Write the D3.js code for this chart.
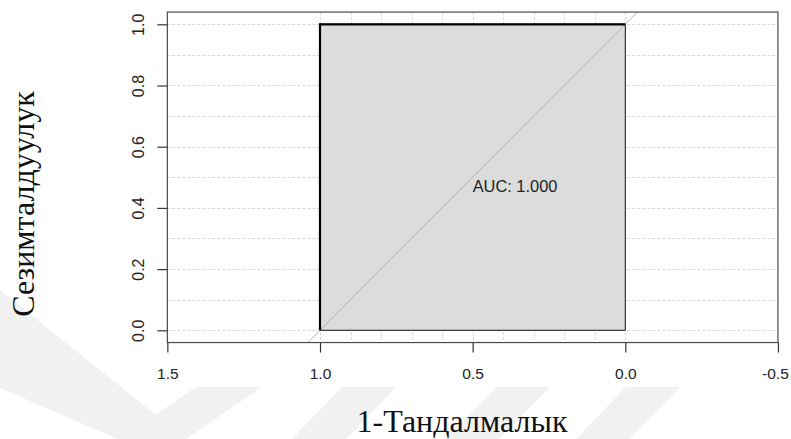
<!DOCTYPE html>
<html>
<head>
<meta charset="utf-8">
<script src="https://cdn.jsdelivr.net/npm/d3@7"></script>
<style>
  html, body { margin: 0; padding: 0; background: #fff; }
  svg { display: block; }
</style>
</head>
<body>
<svg id="chart" width="791" height="439"></svg>
<script>
// ---- data ----
const curveSpecificity = [1, 1, 0];      // x (reversed axis)
const curveSensitivity = [0, 1, 1];      // y
const xTickValues = [1.5, 1.0, 0.5, 0.0, -0.5];
const xTickLabels = ["1.5", "1.0", "0.5", "0.0", "-0.5"];
const yTickValues = [0.0, 0.2, 0.4, 0.6, 0.8, 1.0];
const yTickLabels = ["0.0", "0.2", "0.4", "0.6", "0.8", "1.0"];
const xGridValues = [1.0, 0.9, 0.8, 0.7, 0.6, 0.5, 0.4, 0.3, 0.2, 0.1, 0.0];
const yGridValues = [0.0, 0.1, 0.2, 0.3, 0.4, 0.5, 0.6, 0.7, 0.8, 0.9, 1.0];
const aucLabel = "AUC: 1.000";
const aucPos = [0.5, 0.5];
const xTitle = "1-Тандалмалык";
const yTitle = "Сезимталдуулук";

// ---- layout ----
const svg = d3.select("#chart");
const x = d3.scaleLinear().domain([1.0, 0.0]).range([320, 625.3]);
const y = d3.scaleLinear().domain([0.0, 1.0]).range([330.3, 24.3]);
const xMin = 1.5, xMax = -0.5, yMin = -0.04, yMax = 1.04;
const L = x(xMin), R = x(xMax), T = y(yMax), B = y(yMin);

// ---- watermark (faint background stripes) ----
const wm = svg.append("g").attr("fill", "#f1f1f1");
const stripes = [
  [[0, 290], [0, 388], [118, 439], [186, 439]],
  [[120, 439], [186, 439], [262, 387], [196, 387]],
  [[292, 439], [346, 439], [396, 387], [342, 387]],
  [[445, 439], [499, 439], [550, 387], [496, 387]],
  [[576, 439], [630, 439], [680, 387], [626, 387]]
];
stripes.forEach(p => wm.append("polygon").attr("points", p.map(d => d.join(",")).join(" ")));

// ---- grid ----
const clipId = "plotclip";
svg.append("clipPath").attr("id", clipId)
  .append("rect").attr("x", L).attr("y", T).attr("width", R - L).attr("height", B - T);

const grid = svg.append("g").attr("stroke", "#d9d9d9").attr("stroke-width", 1)
  .attr("stroke-dasharray", "3,2");
grid.selectAll("line.h").data(yGridValues).join("line").attr("class", "h")
  .attr("x1", L).attr("x2", R)
  .attr("y1", d => Math.round(y(d)) + 0.5).attr("y2", d => Math.round(y(d)) + 0.5);
grid.selectAll("line.v").data(xGridValues).join("line").attr("class", "v")
  .attr("y1", T).attr("y2", B)
  .attr("x1", d => Math.round(x(d)) + 0.5).attr("x2", d => Math.round(x(d)) + 0.5);

// ---- AUC polygon ----
const polyPts = curveSpecificity.map((s, i) => [x(s), y(curveSensitivity[i])]);
polyPts.push([x(0), y(0)]);
svg.append("polygon")
  .attr("points", polyPts.map(d => d.join(",")).join(" "))
  .attr("fill", "#dcdcdc").attr("stroke", "#111").attr("stroke-width", 1);

// ---- identity line ----
svg.append("line").attr("clip-path", `url(#${clipId})`)
  .attr("x1", x(1 - yMin)).attr("y1", y(yMin))
  .attr("x2", x(1 - yMax)).attr("y2", y(yMax))
  .attr("stroke", "#b4b4b4").attr("stroke-width", 1);

// ---- ROC curve ----
const line = d3.line().x(d => x(d[0])).y(d => y(d[1]));
svg.append("path")
  .datum(curveSpecificity.map((s, i) => [s, curveSensitivity[i]]))
  .attr("d", line).attr("fill", "none").attr("stroke", "#000").attr("stroke-width", 2.2);

// ---- AUC text ----
svg.append("text").attr("x", x(aucPos[0])).attr("y", y(aucPos[1]) + 15)
  .attr("font-family", "Liberation Sans, Arial, sans-serif").attr("font-size", 16.4)
  .attr("fill", "#222").text(aucLabel);

// ---- box ----
svg.append("rect").attr("x", L).attr("y", T).attr("width", R - L).attr("height", B - T)
  .attr("fill", "none").attr("stroke", "#4a4a4a").attr("stroke-width", 1.2);

// ---- axes ----
const xAxis = d3.axisBottom(x).tickValues(xTickValues).tickSize(10)
  .tickFormat((d, i) => xTickLabels[i]).tickPadding(15);
const gx = svg.append("g").attr("transform", `translate(0,${B})`).call(xAxis);
gx.select(".domain").remove();
gx.selectAll(".tick line").attr("stroke", "#333").attr("stroke-width", 1.2);
gx.selectAll(".tick text").attr("font-family", "Liberation Sans, Arial, sans-serif")
  .attr("font-size", 15.5).attr("fill", "#222")
  .attr("dx", (d, i) => i === xTickValues.length - 1 ? -3 : 0);

const yAxis = d3.axisLeft(y).tickValues(yTickValues).tickSize(10)
  .tickFormat((d, i) => yTickLabels[i]);
const gy = svg.append("g").attr("transform", `translate(${L},0)`).call(yAxis);
gy.select(".domain").remove();
gy.selectAll(".tick line").attr("stroke", "#333").attr("stroke-width", 1.2);
gy.selectAll(".tick text")
  .attr("font-family", "Liberation Sans, Arial, sans-serif").attr("font-size", 16)
  .attr("fill", "#222")
  .attr("x", null).attr("dy", null)
  .attr("text-anchor", "middle")
  .attr("transform", `translate(${143.6 - L},0) rotate(-90)`);

// ---- titles ----
svg.append("text").attr("x", 462).attr("y", 432)
  .attr("text-anchor", "middle")
  .attr("font-family", "Liberation Serif, Times New Roman, serif").attr("font-size", 32)
  .attr("fill", "#111").text(xTitle);
svg.append("text").attr("transform", "translate(34,204) rotate(-90)")
  .attr("text-anchor", "middle")
  .attr("font-family", "Liberation Serif, Times New Roman, serif").attr("font-size", 32)
  .attr("fill", "#111").text(yTitle);
</script>
</body>
</html>
